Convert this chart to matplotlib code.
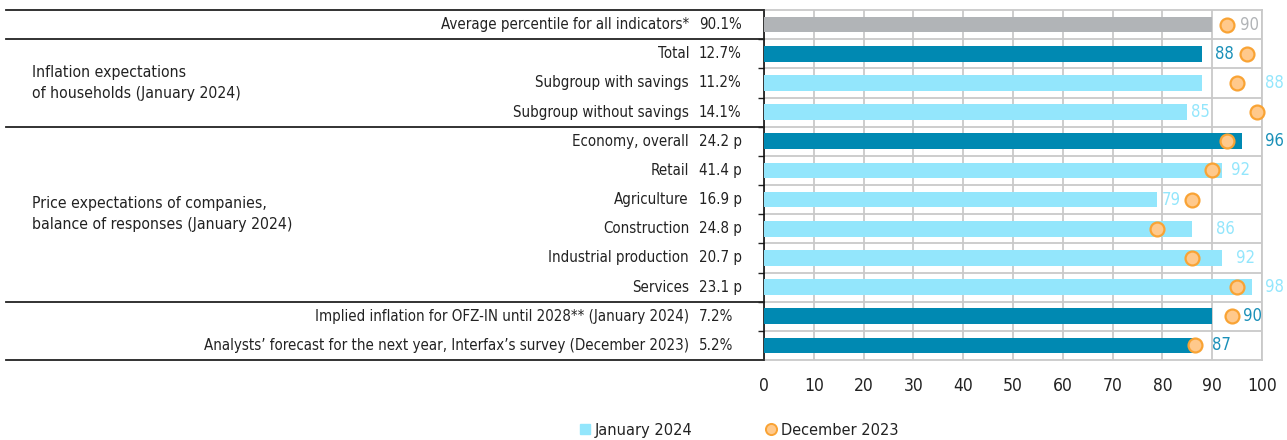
import matplotlib
matplotlib.use("Agg")
import matplotlib.pyplot as plt
from matplotlib.lines import Line2D
from matplotlib.transforms import blended_transform_factory

plt.rcParams['font.family'] = ['DejaVu Sans']
plt.rcParams['font.stretch'] = 'condensed'

# data
row_labels = ["Average percentile for all indicators*", "Total", "Subgroup with savings",
              "Subgroup without savings", "Economy, overall", "Retail", "Agriculture",
              "Construction", "Industrial production", "Services",
              "Implied inflation for OFZ-IN until 2028** (January 2024)",
              "Analysts\u2019 forecast for the next year, Interfax\u2019s survey (December 2023)"]
row_values = ["90.1%", "12.7%", "11.2%", "14.1%", "24.2 p", "41.4 p", "16.9 p", "24.8 p",
              "20.7 p", "23.1 p", "7.2%", "5.2%"]
jan_2024 = [90, 88, 88, 85, 96, 92, 79, 86, 92, 98, 90, 87]
dec_2023 = [93, 97, 95, 99, 93, 90, 86, 79, 86, 95, 94, 86.5]
kind = ['avg', 'dark', 'light', 'light', 'dark', 'light', 'light', 'light', 'light', 'light',
        'dark', 'dark']
groups = [("Inflation expectations\nof households (January 2024)", 1, 3),
          ("Price expectations of companies,\nbalance of responses (January 2024)", 4, 9)]

# where the value labels sit in the original (data units)
label_x = [97.4, 92.5, 102.4, 87.6, 102.4, 95.6, 81.7, 92.6, 96.6, 102.4, 98.0, 91.9]

colors = {'avg': '#b1b4b7', 'dark': '#0089b2', 'light': '#93e6fc'}
text_colors = {'avg': '#b1b4b7', 'dark': '#1a90b8', 'light': '#93e6fc'}
dot_face = '#ffc98c'
dot_edge = '#f9a334'
grid_c = '#c9c9c9'
ink = '#222222'

W, H = 1287, 440
fig = plt.figure(figsize=(W / 100, H / 100), dpi=100)
ax = fig.add_axes([764 / W, 80 / H, (1262 - 764) / W, 350 / H])

n = len(row_labels)
ys = list(range(n))
ax.barh(ys, jan_2024, height=0.54, color=[colors[k] for k in kind], zorder=3)
ax.scatter(dec_2023, ys, s=100, facecolor=dot_face, edgecolor=dot_edge, linewidth=1.6,
           zorder=4, clip_on=False)
for y, v, lx, k in zip(ys, jan_2024, label_x, kind):
    ax.text(lx, y, f"{v}", ha='center', va='center', fontsize=12, color=text_colors[k],
            clip_on=False)

ax.set_xlim(0, 100)
ax.set_ylim(n - 0.5, -0.5)
ax.set_xticks(range(0, 101, 10))
ax.set_yticks([i + 0.5 for i in range(n - 1)])
ax.set_yticklabels([])
ax.grid(True, color=grid_c, linewidth=1.3, zorder=0)
ax.tick_params(axis='x', length=0, pad=12, labelsize=12.5, labelcolor=ink)
ax.tick_params(axis='y', length=4, width=1, color=ink, direction='out')
for s in ['top', 'right', 'bottom']:
    ax.spines[s].set_color(grid_c)
    ax.spines[s].set_linewidth(1.3)
ax.spines['left'].set_color('#111111')
ax.spines['left'].set_linewidth(1.2)
ax.set_axisbelow(True)

# left-hand table
tr = blended_transform_factory(fig.transFigure, ax.transData)
for i, (lab, val) in enumerate(zip(row_labels, row_values)):
    ax.text(689 / W, i, lab, transform=tr, ha='right', va='center', fontsize=10.8, color=ink)
    ax.text(699 / W, i, val, transform=tr, ha='left', va='center', fontsize=10.8, color=ink)
for txt, a, b in groups:
    ax.text(32 / W, (a + b) / 2, txt, transform=tr, ha='left', va='center', fontsize=11.3,
            color=ink, linespacing=1.55)
for yb in [-0.5, 0.5, 3.5, 9.5, n - 0.5]:
    fig.add_artist(Line2D([6 / W, 764 / W], [yb, yb], transform=tr, color=ink, linewidth=1.3))

# legend
h_jan = Line2D([], [], marker='s', linestyle='none', markersize=7, color=colors['light'])
h_dec = Line2D([], [], marker='o', linestyle='none', markersize=8,
               markerfacecolor=dot_face, markeredgecolor=dot_edge, markeredgewidth=1.4)
for h, lab, x0 in [(h_jan, "January 2024", 578), (h_dec, "December 2023", 764)]:
    fig.legend([h], [lab], loc='center left', bbox_to_anchor=(x0 / W, 1 - 430 / H),
               frameon=False, fontsize=11.7, handletextpad=0.25, handlelength=0.8,
               borderpad=0, borderaxespad=0, labelcolor=ink)

fig.savefig("out.png", dpi=100)
